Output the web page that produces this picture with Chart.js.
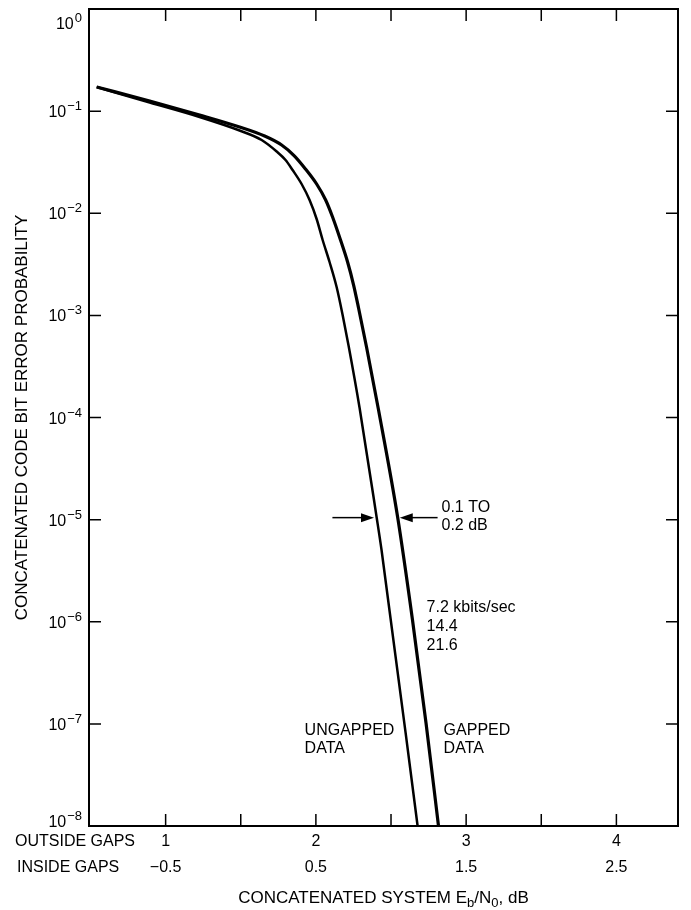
<!DOCTYPE html>
<html>
<head>
<meta charset="utf-8">
<script src="https://cdn.jsdelivr.net/npm/chart.js@4/dist/chart.umd.min.js"></script>
<style>
  html, body { margin: 0; padding: 0; background: #fff; }
  canvas { display: block; }
</style>
</head>
<body>
<canvas id="chart" width="691" height="910"></canvas>
<script>
// Eb/N0 in dB (outside-gaps scale) and bit error probability
const gappedX = [0.541, 0.894, 1.226, 1.492, 1.659, 1.772, 1.858, 1.931, 2.005, 2.065, 2.111, 2.164, 2.211, 2.251, 2.284, 2.337, 2.417, 2.544, 2.643, 2.733, 2.816];
const gappedY = [0.1722, 0.1257, 0.09166, 0.06993, 0.05706, 0.04659, 0.03635, 0.02712, 0.01934, 0.01348, 0.00919, 0.00547, 0.003331, 0.001983, 0.001181, 4.90e-4, 1.184e-4, 1.061e-5, 1.04e-6, 1.02e-7, 1.0e-8];

const ungappedX = [0.541, 0.894, 1.226, 1.492, 1.639, 1.739, 1.798, 1.845, 1.905, 1.958, 2.005, 2.045, 2.091, 2.138, 2.178, 2.218, 2.291, 2.404, 2.437, 2.677];
const ungappedY = [0.1722, 0.1215, 0.0876, 0.06461, 0.05216, 0.04023, 0.03322, 0.02651, 0.01934, 0.01348, 0.008785, 0.00547, 0.003331, 0.001895, 0.001009, 5.01e-4, 1.239e-4, 1.061e-5, 5.04e-6, 1.0e-8];

// x axis labels (two scales, inside = outside - 1.5 dB)
const outsideTicks = [1, 2, 3, 4];
const outsideLabels = ["1", "2", "3", "4"];
const insideLabels = ["\u22120.5", "0.5", "1.5", "2.5"];

// the "0.1 TO 0.2 dB" gap marker at 1e-5
const gapLevel = 1e-5;
const gapLeftTip = 2.40, gapLeftTail = 2.11;
const gapRightTip = 2.545, gapRightTail = 2.81;

// text notes placed in data coordinates
const notes = [
  { x: 2.836, y: 1.18e-5, text: "0.1 TO" },
  { x: 2.836, y: 7.9e-6, text: "0.2 dB" },
  { x: 2.737, y: 1.24e-6, text: "7.2 kbits/sec" },
  { x: 2.737, y: 8.1e-7, text: "14.4" },
  { x: 2.737, y: 5.3e-7, text: "21.6" },
  { x: 1.925, y: 7.7e-8, text: "UNGAPPED" },
  { x: 1.925, y: 5.2e-8, text: "DATA" },
  { x: 2.85, y: 7.7e-8, text: "GAPPED" },
  { x: 2.85, y: 5.2e-8, text: "DATA" }
];

const FONT = '"Liberation Sans", Arial, sans-serif';
const TICK = 12;

function isDecade(v) {
  const l = Math.log10(v);
  return Math.abs(l - Math.round(l)) < 1e-9;
}

function toPoints(xs, ys) {
  return xs.map((x, i) => ({ x, y: ys[i] }));
}

function arrow(ctx, x0, x1, y) {
  // line from x0 to tip x1, filled head at x1
  const dir = Math.sign(x1 - x0);
  ctx.beginPath();
  ctx.moveTo(x0, y);
  ctx.lineTo(x1 - dir * 10, y);
  ctx.stroke();
  ctx.beginPath();
  ctx.moveTo(x1, y);
  ctx.lineTo(x1 - dir * 13, y - 4.5);
  ctx.lineTo(x1 - dir * 13, y + 4.5);
  ctx.closePath();
  ctx.fill();
}

const decorations = {
  id: "decorations",
  afterDatasetsDraw(chart) {
    const { ctx, chartArea: a, scales: { x, y } } = chart;
    ctx.save();
    ctx.strokeStyle = "#000";
    ctx.fillStyle = "#000";

    // frame
    ctx.lineWidth = 2;
    ctx.strokeRect(a.left, a.top, a.right - a.left, a.bottom - a.top);

    // inward ticks on all four sides
    ctx.lineWidth = 1.5;
    ctx.beginPath();
    x.ticks.forEach(t => {
      const px = x.getPixelForValue(t.value);
      ctx.moveTo(px, a.bottom); ctx.lineTo(px, a.bottom - TICK);
      ctx.moveTo(px, a.top); ctx.lineTo(px, a.top + TICK);
    });
    y.ticks.forEach(t => {
      const py = y.getPixelForValue(t.value);
      if (py <= a.top + 1 || py >= a.bottom - 1) return;
      ctx.moveTo(a.left, py); ctx.lineTo(a.left + TICK, py);
      ctx.moveTo(a.right, py); ctx.lineTo(a.right - TICK, py);
    });
    ctx.stroke();

    // y tick labels 10^n
    const right = a.left - 7;
    y.ticks.forEach(t => {
      const py = y.getPixelForValue(t.value);
      const e = Math.round(Math.log10(t.value));
      let base = py + 6;
      if (e === 0) base = py + 20;
      if (py >= a.bottom - 1) base = py + 1;
      const sup = e < 0 ? "\u2212" + (-e) : String(e);
      ctx.font = "13px " + FONT;
      const ws = ctx.measureText(sup).width;
      ctx.font = "16px " + FONT;
      const wb = ctx.measureText("10").width;
      ctx.textAlign = "left";
      ctx.textBaseline = "alphabetic";
      ctx.fillText("10", right - ws - wb - 1, base);
      ctx.font = "13px " + FONT;
      ctx.fillText(sup, right - ws, base - 7);
    });

    // x tick labels, two rows
    ctx.font = "16px " + FONT;
    ctx.textAlign = "center";
    outsideTicks.forEach((v, i) => {
      const px = x.getPixelForValue(v);
      ctx.fillText(outsideLabels[i], px, a.bottom + 20);
      ctx.fillText(insideLabels[i], px, a.bottom + 46);
    });
    ctx.textAlign = "left";
    ctx.fillText("OUTSIDE GAPS", 15, a.bottom + 20);
    ctx.fillText("INSIDE GAPS", 17, a.bottom + 46);

    // x axis title with subscripts
    const parts = [
      { t: "CONCATENATED SYSTEM E", s: 17, dy: 0 },
      { t: "b", s: 13, dy: 4 },
      { t: "/N", s: 17, dy: 0 },
      { t: "0", s: 13, dy: 4 },
      { t: ", dB", s: 17, dy: 0 }
    ];
    let total = 0;
    parts.forEach(p => { ctx.font = p.s + "px " + FONT; p.w = ctx.measureText(p.t).width; total += p.w; });
    let cx = (a.left + a.right) / 2 - total / 2;
    parts.forEach(p => {
      ctx.font = p.s + "px " + FONT;
      ctx.fillText(p.t, cx, a.bottom + 77 + p.dy);
      cx += p.w;
    });

    // y axis title
    ctx.save();
    ctx.translate(27, (a.top + a.bottom) / 2);
    ctx.rotate(-Math.PI / 2);
    ctx.font = "17px " + FONT;
    ctx.textAlign = "center";
    ctx.fillText("CONCATENATED CODE BIT ERROR PROBABILITY", 0, 0);
    ctx.restore();

    // gap arrows
    ctx.lineWidth = 1.5;
    const gy = y.getPixelForValue(gapLevel) - 2;
    arrow(ctx, x.getPixelForValue(gapLeftTail), x.getPixelForValue(gapLeftTip) - 2, gy);
    arrow(ctx, x.getPixelForValue(gapRightTail), x.getPixelForValue(gapRightTip) + 2, gy);

    // notes
    ctx.font = "16px " + FONT;
    ctx.textAlign = "left";
    notes.forEach(n => {
      ctx.fillText(n.text, x.getPixelForValue(n.x), y.getPixelForValue(n.y));
    });

    ctx.restore();
  }
};

new Chart(document.getElementById("chart"), {
  type: "line",
  data: {
    datasets: [
      {
        label: "Gapped data",
        data: toPoints(gappedX, gappedY),
        borderColor: "#000",
        borderWidth: 3.2,
        pointRadius: 0,
        fill: false,
        cubicInterpolationMode: "monotone"
      },
      {
        label: "Ungapped data",
        data: toPoints(ungappedX, ungappedY),
        borderColor: "#000",
        borderWidth: 2.5,
        pointRadius: 0,
        fill: false,
        cubicInterpolationMode: "monotone"
      }
    ]
  },
  options: {
    responsive: false,
    animation: false,
    layout: { padding: { left: 89, right: 13, top: 9, bottom: 84 } },
    plugins: {
      legend: { display: false },
      tooltip: { enabled: false }
    },
    scales: {
      x: {
        type: "linear",
        min: 0.49,
        max: 4.41,
        ticks: { display: false, stepSize: 0.5, includeBounds: false },
        grid: { display: false },
        border: { display: false },
        afterBuildTicks: s => { s.ticks = s.ticks.filter(t => t.value >= 1); },
        afterFit: s => { s.height = 0; }
      },
      y: {
        type: "logarithmic",
        min: 1e-8,
        max: 1,
        ticks: { display: false },
        grid: { display: false },
        border: { display: false },
        afterBuildTicks: s => { s.ticks = s.ticks.filter(t => isDecade(t.value)); },
        afterFit: s => { s.width = 0; }
      }
    }
  },
  plugins: [decorations]
});
</script>
</body>
</html>
